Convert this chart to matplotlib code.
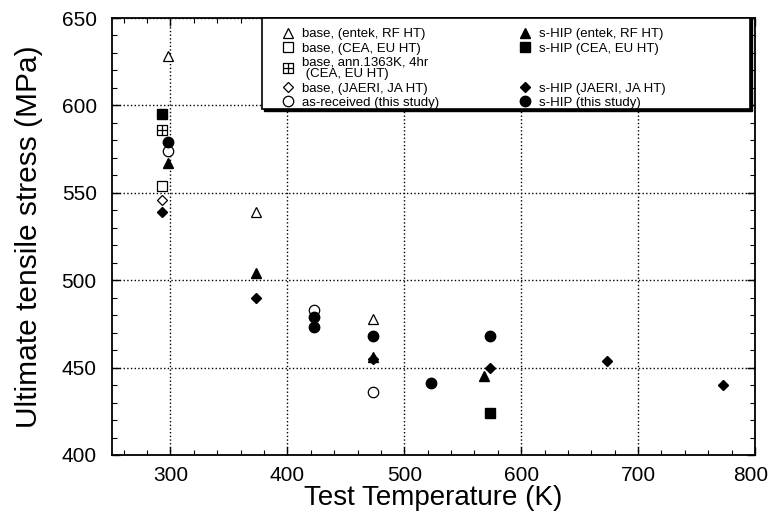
import matplotlib
matplotlib.use("Agg")
import matplotlib.pyplot as plt
import matplotlib.transforms as mtransforms
from matplotlib.path import Path
from matplotlib.lines import Line2D
from matplotlib.patches import Rectangle
from matplotlib.ticker import MultipleLocator, FixedLocator

plt.rcParams['font.family'] = ['Liberation Sans', 'DejaVu Sans']

# data (temperature K, UTS MPa)
base_entek_T = [298, 373, 473]
base_entek_uts = [628, 539, 478]
base_cea_T = [293]
base_cea_uts = [554]
base_ann_T = [293]
base_ann_uts = [586]
base_jaeri_T = [293]
base_jaeri_uts = [546]
asrec_T = [298, 423, 473]
asrec_uts = [574, 483, 436]

hip_entek_T = [298, 373, 473, 568]
hip_entek_uts = [567, 504, 456, 445]
hip_cea_T = [293, 573]
hip_cea_uts = [595, 424]
hip_jaeri_T = [293, 373, 473, 573, 673, 773]
hip_jaeri_uts = [539, 490, 455, 450, 454, 440]
hip_this_T = [298, 423, 423, 473, 523, 573]
hip_this_uts = [579, 479, 473, 468, 441, 468]

xticks = [300, 400, 500, 600, 700, 800]
yticks = [400, 450, 500, 550, 600, 650]

# square with a cross in it
crossed_sq = Path(
    [(-1, -1), (1, -1), (1, 1), (-1, 1), (-1, -1),
     (0, -1), (0, 1), (-1, 0), (1, 0)],
    [Path.MOVETO, Path.LINETO, Path.LINETO, Path.LINETO, Path.CLOSEPOLY,
     Path.MOVETO, Path.LINETO, Path.MOVETO, Path.LINETO])

fig = plt.figure(figsize=(7.73, 5.18), dpi=100)
ax = fig.add_axes([112/773, 1 - 455/518, 643/773, 437/518])

open_kw = dict(ls='none', mfc='white', mec='black', mew=0.9, color='black')
fill_kw = dict(ls='none', mfc='black', mec='black', color='black')

h1, = ax.plot(base_entek_T, base_entek_uts, marker='^', ms=6.5, **open_kw)
h2, = ax.plot(base_cea_T, base_cea_uts, marker='s', ms=7, **open_kw)
h3, = ax.plot(base_ann_T, base_ann_uts, marker=crossed_sq, ms=7, **open_kw)
h4, = ax.plot(base_jaeri_T, base_jaeri_uts, marker='D', ms=5, **open_kw)
h5, = ax.plot(asrec_T, asrec_uts, marker='o', ms=7.5, **open_kw)

g1, = ax.plot(hip_entek_T, hip_entek_uts, marker='^', ms=7, **fill_kw)
g2, = ax.plot(hip_cea_T, hip_cea_uts, marker='s', ms=7.5, **fill_kw)
g3, = ax.plot(hip_jaeri_T, hip_jaeri_uts, marker='D', ms=5.5, **fill_kw)
g4, = ax.plot(hip_this_T, hip_this_uts, marker='o', ms=7.5, **fill_kw)
blank = Line2D([], [], ls='none', marker='none')

ax.set_xlim(250, 800)
ax.set_ylim(400, 650)
ax.xaxis.set_major_locator(FixedLocator(xticks))
ax.xaxis.set_minor_locator(MultipleLocator(20))
ax.yaxis.set_major_locator(FixedLocator(yticks))
ax.yaxis.set_minor_locator(MultipleLocator(10))
ax.tick_params(which='both', direction='in', top=True, right=True, labelsize=15)
ax.tick_params(axis='y', which='major', pad=11)
ax.tick_params(axis='x', which='major', pad=8)
ax.tick_params(which='major', length=6, width=1)
ax.tick_params(which='minor', length=3.5, width=0.8)
ax.grid(True, which='major', ls=':', lw=1, color='black')
for s in ax.spines.values():
    s.set_linewidth(1.3)

ax.set_xlabel('Test Temperature (K)', fontsize=20, labelpad=0)
ax.set_ylabel('Ultimate tensile stress (MPa)', fontsize=21.5)
ax.yaxis.set_label_coords(-0.108, 0.5)

# nudge the last x label inward so it stays on the canvas
fig.canvas.draw()
last = ax.get_xticklabels()[-1]
last.set_transform(last.get_transform() + mtransforms.ScaledTranslation(-4/100, 0, fig.dpi_scale_trans))

# legend box: white panel with a dark drop edge
box_shadow = Rectangle((0.237, 0.787), 0.758, 0.213, transform=ax.transAxes,
                       facecolor='black', edgecolor='black', zorder=4, clip_on=False)
box = Rectangle((0.234, 0.792), 0.758, 0.208, transform=ax.transAxes,
                facecolor='white', edgecolor='black', lw=1.2, zorder=5, clip_on=False)
ax.add_patch(box_shadow)
ax.add_patch(box)

leg = ax.legend([h1, h2, h3, h4, h5, g1, g2, blank, g3, g4],
                ['base, (entek, RF HT)', 'base, (CEA, EU HT)', 'base, ann.1363K, 4hr\n (CEA, EU HT)',
                 'base, (JAERI, JA HT)', 'as-received (this study)',
                 's-HIP (entek, RF HT)', 's-HIP (CEA, EU HT)', ' \n ',
                 's-HIP (JAERI, JA HT)', 's-HIP (this study)'],
                ncol=2, loc='upper left', bbox_to_anchor=(0.262, 0.977),
                fontsize=9.5, frameon=False, borderpad=0, labelspacing=0.15,
                handlelength=1.15, handletextpad=0.5, columnspacing=5.9,
                borderaxespad=0)
leg.set_zorder(6)
for t in leg.get_texts():
    t.set_linespacing(1.0)

fig.savefig('out.png', dpi=100)
